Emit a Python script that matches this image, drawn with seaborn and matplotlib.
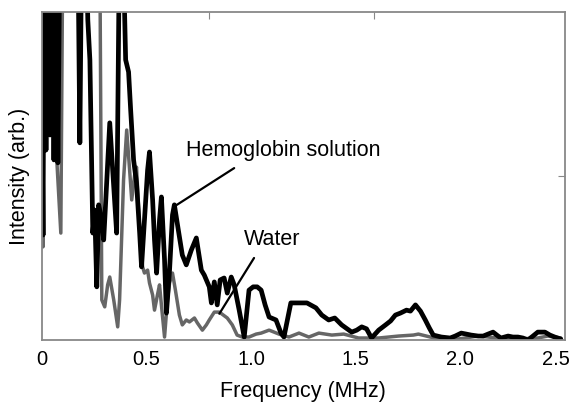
import numpy as np
import pandas as pd
import matplotlib
matplotlib.use("Agg")
import matplotlib.pyplot as plt
import matplotlib.transforms as mtransforms
import seaborn as sns

# Hemoglobin solution spectrum (values above 1.0 run off the top of the plot)
hb_freq = [0.000, 0.005, 0.010, 0.019, 0.029, 0.038, 0.048, 0.057, 0.067, 0.076,
           0.086, 0.095, 0.143, 0.171, 0.181, 0.190, 0.210, 0.219, 0.229, 0.243,
           0.252, 0.262, 0.271, 0.281, 0.295, 0.310, 0.324, 0.338, 0.357, 0.371,
           0.386, 0.400, 0.414, 0.424, 0.438, 0.452, 0.467, 0.476, 0.490, 0.505,
           0.514, 0.529, 0.538, 0.548, 0.562, 0.571, 0.586, 0.595, 0.610, 0.624,
           0.633, 0.652, 0.671, 0.690, 0.714, 0.738, 0.762, 0.776, 0.800, 0.810,
           0.824, 0.838, 0.852, 0.871, 0.886, 0.905, 0.919, 0.943, 0.967, 0.990,
           1.010, 1.029, 1.048, 1.067, 1.086, 1.119, 1.143, 1.157, 1.190, 1.229,
           1.267, 1.310, 1.338, 1.371, 1.400, 1.433, 1.481, 1.505, 1.529, 1.552,
           1.576, 1.610, 1.643, 1.667, 1.690, 1.714, 1.743, 1.762, 1.786, 1.810,
           1.833, 1.852, 1.871, 1.910, 1.952, 1.976, 2.005, 2.029, 2.052, 2.086,
           2.110, 2.133, 2.157, 2.181, 2.195, 2.229, 2.252, 2.276, 2.300, 2.324,
           2.348, 2.371, 2.405, 2.429, 2.452, 2.481]
hb_int = [0.732, 0.320, 1.25, 0.579, 1.25, 0.625, 1.25, 0.549, 1.25, 0.540,
          1.25, 1.25, 1.25, 1.25, 0.601, 1.25, 1.25, 0.976, 0.854, 0.326,
          0.396, 0.162, 0.412, 0.381, 0.305, 0.488, 0.662, 0.518, 0.326, 1.25,
          1.25, 0.854, 0.817, 0.701, 0.549, 0.479, 0.326, 0.223, 0.366, 0.518,
          0.573, 0.427, 0.305, 0.204, 0.366, 0.436, 0.244, 0.082, 0.213, 0.381,
          0.412, 0.335, 0.259, 0.229, 0.274, 0.311, 0.213, 0.198, 0.162, 0.113,
          0.177, 0.107, 0.183, 0.189, 0.143, 0.192, 0.168, 0.091, 0.009, 0.152,
          0.162, 0.162, 0.152, 0.107, 0.070, 0.061, 0.021, 0.009, 0.113, 0.113,
          0.113, 0.098, 0.076, 0.061, 0.067, 0.046, 0.024, 0.030, 0.040, 0.034,
          0.006, 0.030, 0.046, 0.058, 0.076, 0.082, 0.091, 0.088, 0.107, 0.088,
          0.061, 0.037, 0.015, 0.009, 0.006, 0.012, 0.021, 0.018, 0.015, 0.012,
          0.012, 0.018, 0.024, 0.012, 0.006, 0.012, 0.009, 0.009, 0.006, 0.000,
          0.012, 0.024, 0.024, 0.015, 0.009, 0.003]

# Water spectrum
w_freq = [0.000, 0.005, 0.010, 0.090, 0.100, 0.276, 0.286, 0.300, 0.314, 0.324,
          0.343, 0.362, 0.371, 0.390, 0.405, 0.419, 0.429, 0.443, 0.452, 0.467,
          0.481, 0.490, 0.505, 0.514, 0.529, 0.538, 0.552, 0.562, 0.571, 0.586,
          0.600, 0.610, 0.624, 0.638, 0.657, 0.671, 0.690, 0.705, 0.729, 0.743,
          0.767, 0.786, 0.800, 0.824, 0.848, 0.867, 0.886, 0.910, 0.933, 0.957,
          0.990, 1.024, 1.048, 1.086, 1.110, 1.133, 1.181, 1.229, 1.276, 1.324,
          1.386, 1.443, 1.514, 1.610, 1.705, 1.776, 1.800, 1.895, 1.990, 2.086,
          2.181, 2.276, 2.371, 2.419, 2.481]
w_int = [1.25, 0.284, 1.25, 0.326, 1.25, 1.25, 0.122, 0.101, 0.168, 0.192,
         0.122, 0.040, 0.122, 0.488, 0.640, 0.518, 0.427, 0.503, 0.527, 0.335,
         0.223, 0.204, 0.213, 0.174, 0.137, 0.091, 0.137, 0.168, 0.107, 0.009,
         0.122, 0.174, 0.204, 0.152, 0.076, 0.046, 0.061, 0.055, 0.067, 0.052,
         0.030, 0.046, 0.061, 0.085, 0.085, 0.076, 0.067, 0.046, 0.015, 0.009,
         0.009, 0.018, 0.021, 0.030, 0.024, 0.018, 0.009, 0.021, 0.009, 0.021,
         0.015, 0.018, 0.006, 0.006, 0.012, 0.015, 0.018, 0.003, 0.003, 0.012,
         0.006, 0.003, 0.006, 0.012, 0.006]

xticks = [0, 0.5, 1.0, 1.5, 2.0, 2.5]
xtick_labels = ["0", "0.5", "1.0", "1.5", "2.0", "2.5"]

sns.set_style("white")
plt.rcParams["font.family"] = ["Liberation Sans", "DejaVu Sans"]
plt.rcParams["text.color"] = "black"
plt.rcParams["axes.labelcolor"] = "black"
plt.rcParams["xtick.labelcolor"] = "black"

water = pd.DataFrame({"freq": w_freq, "intensity": w_int})
hb = pd.DataFrame({"freq": hb_freq, "intensity": hb_int})

fig = plt.figure(figsize=(5.77, 4.08), dpi=100)
ax = fig.add_axes([0.0728, 0.1667, 0.906, 0.804])

sns.lineplot(data=water, x="freq", y="intensity", ax=ax, color="#666666",
             linewidth=2.5, estimator=None, sort=False)
sns.lineplot(data=hb, x="freq", y="intensity", ax=ax, color="black",
             linewidth=3.4, estimator=None, sort=False)

ax.set_xlim(0, 2.5)
ax.set_ylim(0, 1.0)
ax.set_xticks(xticks)
ax.set_xticklabels(xtick_labels)
ax.set_yticks([0.5])
ax.tick_params(axis="x", direction="in", length=5, color="#888888",
               labelsize=14.5, pad=7, top=False)
ax.tick_params(axis="y", direction="in", length=5, color="#888888",
               left=False, labelleft=False, right=True)

# last label sits against the image edge; nudge it inwards a little
last = ax.get_xticklabels()[-1]
last.set_transform(last.get_transform() +
                   mtransforms.ScaledTranslation(-6 / 72, 0, fig.dpi_scale_trans))

for s in ax.spines.values():
    s.set_color("#888888")
    s.set_linewidth(1.3)

top = ax.secondary_xaxis("top")
top.set_xticks([0.8, 1.59])
top.tick_params(direction="in", length=5, color="#888888", labeltop=False)
top.spines["top"].set_visible(False)

ax.set_xlabel("Frequency (MHz)", fontsize=15.5, labelpad=9)
ax.set_ylabel("Intensity (arb.)", fontsize=15.5, labelpad=9)

ax.text(0.69, 0.579, "Hemoglobin solution", fontsize=15.5, va="center", ha="left")
ax.plot([0.64, 0.919], [0.41, 0.524], color="black", linewidth=1.6)
ax.text(0.967, 0.305, "Water", fontsize=15.5, va="center", ha="left")
ax.plot([0.848, 1.014], [0.08, 0.25], color="black", linewidth=1.6)

fig.savefig("out.png", dpi=100)
